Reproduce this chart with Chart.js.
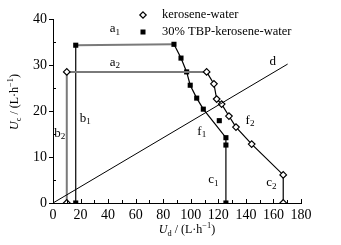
<!DOCTYPE html>
<html>
<head>
<meta charset="utf-8">
<script src="https://cdn.jsdelivr.net/npm/chart.js@4"></script>
<style>
html,body{margin:0;padding:0;background:#fff}
</style>
</head>
<body>
<canvas id="chart" width="341" height="245"></canvas>
<script>
// kerosene-water (open diamonds), path b2 -> a2 -> f2 -> c2
const plainUd = [10, 10, 111.5, 116.8, 118.8, 122.4, 127.7, 132.8, 144.2, 167.1, 167.1];
const plainUc = [0, 28.5, 28.5, 25.9, 22.6, 21.5, 18.9, 16.5, 12.8, 6.1, 0];
// 30% TBP-kerosene-water (filled squares), path b1 -> a1 -> f1 -> c1
const tbpUd = [16.5, 16.5, 87.8, 92.9, 97, 99.6, 104.3, 109.1, 125.5, 125.5, 125.5];
const tbpUc = [0, 34.3, 34.5, 31.5, 28.5, 25.6, 22.8, 20.4, 14.2, 12.6, 0];
const tbpOffUd = [120.7];
const tbpOffUc = [17.9];
// line d
const lineDUd = [0, 170.3];
const lineDUc = [0, 30.2];

const xTicks = [0, 20, 40, 60, 80, 100, 120, 140, 160, 180];
const yTicks = [0, 10, 20, 30, 40];
const legendNames = ["kerosene-water", "30% TBP-kerosene-water"];
// letter, subscript, Ud, Uc
const curveLabels = [
  ["a", "1", 45, 37.9], ["a", "2", 45, 30.6], ["b", "1", 23.5, 18.4], ["b", "2", 5, 15.2],
  ["f", "1", 108, 15.6], ["f", "2", 143, 18], ["c", "1", 116.5, 5], ["c", "2", 158.5, 4.4],
  ["d", "", 159.5, 30.8]
];

const SERIF = "'Liberation Serif', 'Times New Roman', serif";
const GRAY = "#7a7a7a";

function toPts(xs, ys) { return xs.map((x, i) => ({x: x, y: ys[i]})); }

function richText(ctx, parts, cx, cy, size) {
  let total = 0;
  parts.forEach(p => {
    const s = p.sub || p.sup ? size * 0.7 : size;
    ctx.font = (p.it ? "italic " : "") + s + "px " + SERIF;
    p.w = ctx.measureText(p.t).width;
    p.s = s;
    total += p.w;
  });
  let x = cx - total / 2;
  ctx.textAlign = "left";
  ctx.textBaseline = "middle";
  parts.forEach(p => {
    ctx.font = (p.it ? "italic " : "") + p.s + "px " + SERIF;
    let dy = p.sub ? size * 0.28 : (p.sup ? -size * 0.32 : 0);
    ctx.fillText(p.t, x, cy + dy);
    x += p.w;
  });
}

const extras = {
  id: "extras",
  afterDraw(chart) {
    const ctx = chart.ctx;
    const xs = chart.scales.x, ys = chart.scales.y;
    const a = chart.chartArea;
    ctx.save();
    ctx.strokeStyle = "#000";
    ctx.lineWidth = 1;
    ctx.beginPath();
    for (let v = 0; v <= 40; v += 5) {
      const py = Math.round(ys.getPixelForValue(v)) + 0.5;
      if (v % 10 === 0) { ctx.moveTo(a.left - 4, py); ctx.lineTo(a.left, py); }
      else { ctx.moveTo(a.left, py); ctx.lineTo(a.left + 3, py); }
    }
    for (let v = 10; v <= 180; v += 10) {
      const px = Math.round(xs.getPixelForValue(v)) + 0.5;
      ctx.moveTo(px, a.bottom); ctx.lineTo(px, a.bottom - (v % 20 === 0 ? 4 : 3));
    }
    ctx.stroke();

    ctx.fillStyle = "#000";
    curveLabels.forEach(l => {
      const parts = [{t: l[0]}];
      if (l[1]) parts.push({t: l[1], sub: true});
      richText(ctx, parts, xs.getPixelForValue(l[2]), ys.getPixelForValue(l[3]), 13);
    });

    // axis titles
    richText(ctx, [{t: "U", it: true}, {t: "d", sub: true}, {t: " / (L·h"}, {t: "−1", sup: true}, {t: ")"}], 187, 230, 12);
    ctx.save();
    ctx.translate(15, 102);
    ctx.rotate(-Math.PI / 2);
    richText(ctx, [{t: "U", it: true}, {t: "c", sub: true}, {t: " / (L·h"}, {t: "−1", sup: true}, {t: ")"}], 0, 0, 12);
    ctx.restore();

    // legend
    const ly = [15, 32];
    ctx.lineWidth = 1.2;
    ctx.beginPath();
    ctx.moveTo(143, ly[0] - 3.2); ctx.lineTo(146.2, ly[0]); ctx.lineTo(143, ly[0] + 3.2); ctx.lineTo(139.8, ly[0]);
    ctx.closePath();
    ctx.fillStyle = "#fff"; ctx.fill(); ctx.stroke();
    ctx.fillStyle = "#000";
    ctx.fillRect(140.5, ly[1] - 2.5, 5, 5);
    ctx.font = "12.5px " + SERIF;
    ctx.textAlign = "left";
    ctx.textBaseline = "middle";
    ctx.fillText(legendNames[0], 162, ly[0]);
    ctx.fillText(legendNames[1], 162, ly[1]);
    ctx.restore();
  }
};

new Chart(document.getElementById("chart"), {
  type: "scatter",
  data: {
    datasets: [
      {
        label: "d",
        data: toPts(lineDUd, lineDUc),
        showLine: true, borderColor: "#000", borderWidth: 1, pointRadius: 0
      },
      {
        label: legendNames[0],
        data: toPts(plainUd, plainUc),
        showLine: true, borderColor: "#000", borderWidth: 1.2,
        segment: {
          borderColor: c => c.p0DataIndex < 2 ? GRAY : "#000",
          borderWidth: c => c.p0DataIndex < 2 ? 2 : 1.2
        },
        pointStyle: "rectRot", pointRadius: 3.3, pointBackgroundColor: "#fff",
        pointBorderColor: "#000", pointBorderWidth: 1.2
      },
      {
        label: legendNames[1],
        data: toPts(tbpUd, tbpUc),
        showLine: true, borderColor: "#000", borderWidth: 1.2,
        segment: {
          borderColor: c => c.p0DataIndex === 1 ? GRAY : "#000",
          borderWidth: c => c.p0DataIndex === 1 ? 2 : 1.2
        },
        pointStyle: "rect", pointRadius: 3.6, pointBackgroundColor: "#000",
        pointBorderColor: "#000", pointBorderWidth: 0
      },
      {
        label: legendNames[1] + " (off line)",
        data: toPts(tbpOffUd, tbpOffUc),
        showLine: false,
        pointStyle: "rect", pointRadius: 3.6, pointBackgroundColor: "#000",
        pointBorderColor: "#000", pointBorderWidth: 0
      }
    ]
  },
  options: {
    responsive: false,
    animation: false,
    layout: {padding: {top: 19, right: 40, left: 0, bottom: 0}},
    plugins: {legend: {display: false}, tooltip: {enabled: false}},
    scales: {
      x: {
        type: "linear", min: 0, max: 180,
        afterBuildTicks: s => { s.ticks = xTicks.map(v => ({value: v})); },
        afterFit: s => { s.height = 42; },
        grid: {display: false, drawTicks: false},
        border: {display: true, color: "#000", width: 1},
        ticks: {color: "#000", padding: 4, font: {family: SERIF, size: 14}, maxRotation: 0}
      },
      y: {
        type: "linear", min: 0, max: 40,
        afterBuildTicks: s => { s.ticks = yTicks.map(v => ({value: v})); },
        afterFit: s => { s.width = 53; },
        grid: {display: false, drawTicks: false},
        border: {display: true, color: "#000", width: 1},
        ticks: {color: "#000", padding: 6, font: {family: SERIF, size: 14}}
      }
    }
  },
  plugins: [extras]
});
</script>
</body>
</html>
